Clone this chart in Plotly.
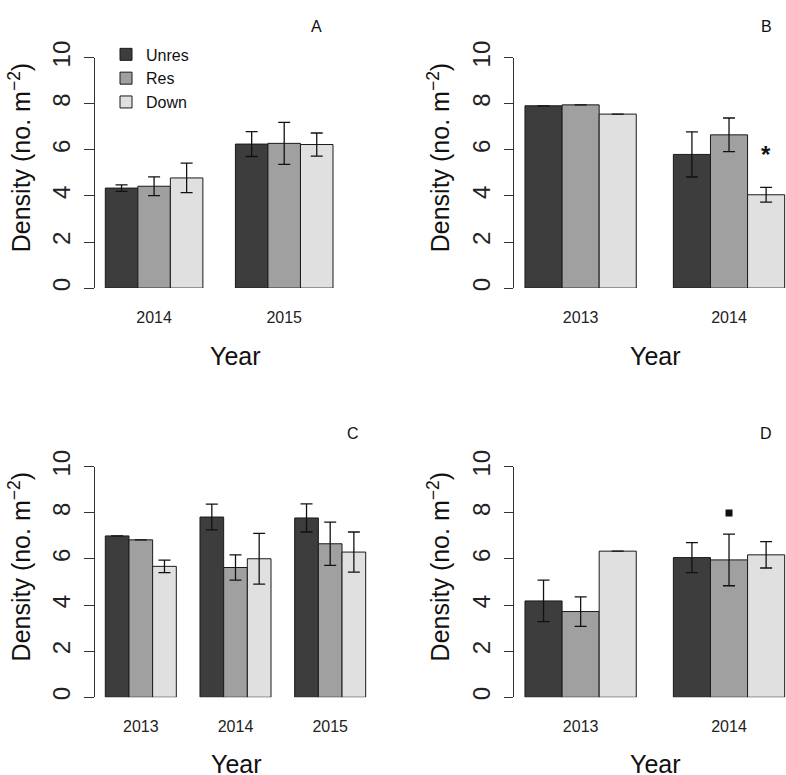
import plotly.graph_objects as go

# ---------------- data ----------------
series_names = ["Unres", "Res", "Down"]
series_colors = ["#3d3d3d", "#a0a0a0", "#e0e0e0"]

years_A = ["2014", "2015"]
unres_A = [4.34, 6.25]
res_A = [4.42, 6.28]
down_A = [4.78, 6.23]
unres_A_se = [0.14, 0.54]
res_A_se = [0.41, 0.91]
down_A_se = [0.64, 0.50]

years_B = ["2013", "2014"]
unres_B = [7.91, 5.80]
res_B = [7.95, 6.65]
down_B = [7.55, 4.05]
unres_B_se = [None, 0.98]
res_B_se = [None, 0.73]
down_B_se = [None, 0.32]

years_C = ["2013", "2014", "2015"]
unres_C = [7.00, 7.82, 7.78]
res_C = [6.83, 5.63, 6.66]
down_C = [5.68, 6.01, 6.30]
unres_C_se = [None, 0.56, 0.61]
res_C_se = [None, 0.55, 0.94]
down_C_se = [0.27, 1.10, 0.87]

years_D = ["2013", "2014"]
unres_D = [4.18, 6.06]
res_D = [3.72, 5.96]
down_D = [6.34, 6.18]
unres_D_se = [0.90, 0.65]
res_D_se = [0.64, 1.12]
down_D_se = [None, 0.57]

y_ticks = [0, 2, 4, 6, 8, 10]
panel_labels = ["A", "B", "C", "D"]

# significance marks: (panel, year, series, y value, kind)
sig_marks = [
    ("B", "2014", "Down", 5.78, "asterisk"),
    ("D", "2014", "Res", 8.0, "square"),
]

# ---------------- layout geometry (pixels of the 786x775 page) ----------------
W, H = 786, 775
FONT = "Liberation Sans, Arial, Helvetica, sans-serif"

panels = {
    "A": dict(years=years_A, vals=[unres_A, res_A, down_A], se=[unres_A_se, res_A_se, down_A_se],
              xdom=(94.5, 343.8), xrange=(-0.458, 1.458), ypx=(41.7, 278.3), ax="", label=(316.3, 9.5),
              ytitle=(20, 145), xtitle=(235.7, 348)),
    "B": dict(years=years_B, vals=[unres_B, res_B, down_B], se=[unres_B_se, res_B_se, down_B_se],
              xdom=(514.3, 786), xrange=(-0.447, 1.384), ypx=(41.7, 278.3), ax="2", label=(766.5, 9.5),
              ytitle=(439, 145), xtitle=(655, 348)),
    "C": dict(years=years_C, vals=[unres_C, res_C, down_C], se=[unres_C_se, res_C_se, down_C_se],
              xdom=(94.5, 376.5), xrange=(-0.489, 2.489), ypx=(461.7, 698.3), ax="3", label=(353.3, 428),
              ytitle=(20, 565), xtitle=(236, 767)),
    "D": dict(years=years_D, vals=[unres_D, res_D, down_D], se=[unres_D_se, res_D_se, down_D_se],
              xdom=(514.3, 786), xrange=(-0.447, 1.384), ypx=(461.7, 698.3), ax="4", label=(766, 428),
              ytitle=(439, 565), xtitle=(655, 767)),
}

fig = go.Figure()
annotations = []
layout_axes = {}

for pname, p in panels.items():
    xa = "x" + p["ax"]
    ya = "y" + p["ax"]
    idx = list(range(len(p["years"])))
    for s, (name, color) in enumerate(zip(series_names, series_colors)):
        fig.add_trace(go.Bar(
            x=idx, y=p["vals"][s], name=name, xaxis=xa, yaxis=ya,
            marker=dict(color=color, line=dict(color="#1a1a1a", width=1)),
            error_y=dict(type="data", array=p["se"][s], symmetric=True,
                         color="#111111", thickness=1.3, width=6),
            showlegend=(pname == "A"), legendgroup=name,
        ))
    xkey = "xaxis" + p["ax"]
    ykey = "yaxis" + p["ax"]
    layout_axes[xkey] = dict(
        domain=[p["xdom"][0] / W, p["xdom"][1] / W], range=list(p["xrange"]), anchor=ya,
        tickvals=idx, ticktext=p["years"], showline=False, ticks="", showgrid=False, zeroline=False,
        tickfont=dict(size=16, color="#222222", family=FONT), ticklabelstandoff=18, fixedrange=True,
    )
    layout_axes[ykey] = dict(
        domain=[1 - p["ypx"][1] / H, 1 - p["ypx"][0] / H], range=[0, 10], anchor=xa,
        tickvals=y_ticks, ticktext=[str(t) for t in y_ticks], tickangle=-90,
        showline=True, linecolor="#333333", linewidth=1, ticks="outside", ticklen=9.5,
        tickcolor="#333333", tickwidth=1, showgrid=False, zeroline=False,
        tickfont=dict(size=24, color="#222222", family=FONT), ticklabelstandoff=4, fixedrange=True,
    )
    annotations.append(dict(text=pname, x=p["label"][0] / W, y=1 - p["label"][1] / H,
                            xref="paper", yref="paper", showarrow=False, xanchor="center", yanchor="middle",
                            font=dict(size=16, color="#111111", family=FONT)))
    annotations.append(dict(text="Density (no. m<sup>−2</sup>)", x=p["ytitle"][0] / W, y=1 - p["ytitle"][1] / H,
                            xref="paper", yref="paper", showarrow=False, textangle=-90,
                            xanchor="center", yanchor="middle",
                            font=dict(size=25, color="#111111", family=FONT)))
    annotations.append(dict(text="Year", x=p["xtitle"][0] / W, y=1 - p["xtitle"][1] / H,
                            xref="paper", yref="paper", showarrow=False,
                            xanchor="center", yanchor="middle",
                            font=dict(size=25, color="#111111", family=FONT)))

# significance marks placed through the bar geometry (bargap 0.25 -> bar width 0.25)
for pname, year, series, yv, kind in sig_marks:
    p = panels[pname]
    xpos = p["years"].index(year) + (series_names.index(series) - 1) * 0.25
    xa = "x" + p["ax"]
    ya = "y" + p["ax"]
    if kind == "asterisk":
        annotations.append(dict(text="<b>*</b>", x=xpos, y=yv, xref=xa, yref=ya, showarrow=False,
                                xanchor="center", yanchor="middle",
                                font=dict(size=24, color="#111111", family=FONT)))
    else:
        fig.add_trace(go.Scatter(x=[xpos], y=[yv], xaxis=xa, yaxis=ya, mode="markers",
                                 marker=dict(symbol="square", size=7, color="#111111"),
                                 showlegend=False, hoverinfo="skip"))

fig.update_layout(
    width=W, height=H, autosize=False,
    margin=dict(l=0, r=0, t=0, b=0),
    paper_bgcolor="white", plot_bgcolor="white",
    barmode="group", bargap=0.25, bargroupgap=0,
    font=dict(family=FONT, color="#111111"),
    legend=dict(x=106 / W, y=1 - 21 / H, xanchor="left", yanchor="top",
                bgcolor="rgba(0,0,0,0)", font=dict(size=16, family=FONT, color="#111111"),
                tracegroupgap=0, itemclick=False, itemdoubleclick=False),
    annotations=annotations,
    **layout_axes,
)

fig.write_html(
    "out.html",
    config={"displayModeBar": False},
    post_script="document.body.style.margin='0';document.body.style.padding='0';document.body.style.overflow='hidden';",
)
